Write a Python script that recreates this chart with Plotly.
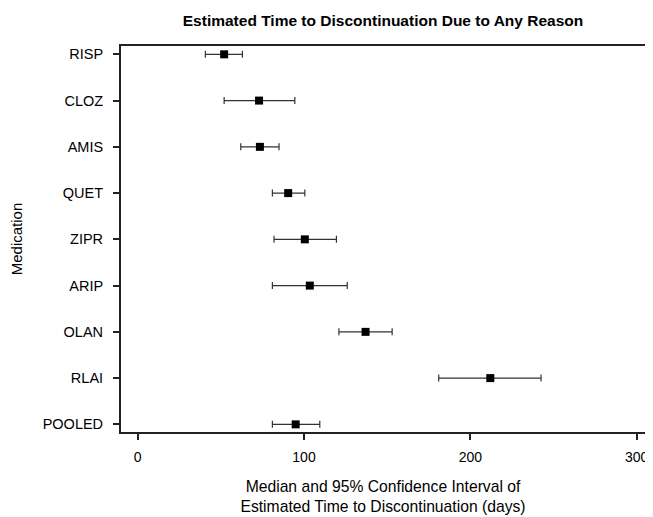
import plotly.graph_objects as go

medications = ["RISP", "CLOZ", "AMIS", "QUET", "ZIPR", "ARIP", "OLAN", "RLAI", "POOLED"]
median_days = [52, 73, 73.5, 90.5, 100.5, 103.5, 137, 212, 95]
ci_low = [40.7, 52, 62, 81, 82, 81, 121, 181, 81]
ci_high = [63, 94.5, 85, 100.5, 119.5, 126, 153, 242.5, 109.5]
x_ticks = [0, 100, 200, 300]

err_plus = [h - m for h, m in zip(ci_high, median_days)]
err_minus = [m - l for m, l in zip(median_days, ci_low)]

FONT = "Liberation Sans, Arial, Helvetica, sans-serif"

# page body has an 8px default margin, so the figure is sized to fit the window
W, H = 645, 509

fig = go.Figure()
fig.add_trace(go.Scatter(
    x=median_days,
    y=medications,
    mode="markers",
    marker=dict(symbol="square", size=8, color="black"),
    error_x=dict(type="data", symmetric=False, array=err_plus, arrayminus=err_minus,
                 color="#333333", thickness=1.2, width=3.5),
    showlegend=False,
))

fig.update_layout(
    width=W, height=H,
    margin=dict(l=113, r=4, t=38, b=82),
    paper_bgcolor="white", plot_bgcolor="white",
    font=dict(family=FONT, color="black", size=14),
    title=dict(text="<b>Estimated Time to Discontinuation Due to Any Reason</b>",
               x=0.5, xref="paper", xanchor="center",
               y=1 - 13 / H, yref="container", yanchor="middle",
               font=dict(size=15.5, family=FONT, color="black")),
    xaxis=dict(
        range=[-10, 305], tickvals=x_ticks, ticktext=[str(v) for v in x_ticks],
        showgrid=False, zeroline=False,
        showline=True, linecolor="#222222", linewidth=2, mirror=True,
        ticks="outside", ticklen=6, tickwidth=1.5, tickcolor="#222222",
        tickfont=dict(size=14, family=FONT), ticklabelstandoff=5,
        title=dict(text="Median and 95% Confidence Interval of<br>Estimated Time to Discontinuation (days)",
                   font=dict(size=15.7, family=FONT), standoff=17),
    ),
    yaxis=dict(
        type="category", categoryorder="array", categoryarray=medications,
        range=[8.165, -0.18],
        showgrid=False, zeroline=False,
        showline=True, linecolor="#222222", linewidth=2, mirror=True,
        ticks="outside", ticklen=6, tickwidth=1.5, tickcolor="#222222",
        tickfont=dict(size=14.5, family=FONT), ticklabelstandoff=7,
        title=dict(text="Medication", font=dict(size=15, family=FONT), standoff=17),
    ),
)

fig.write_html("out.html")
